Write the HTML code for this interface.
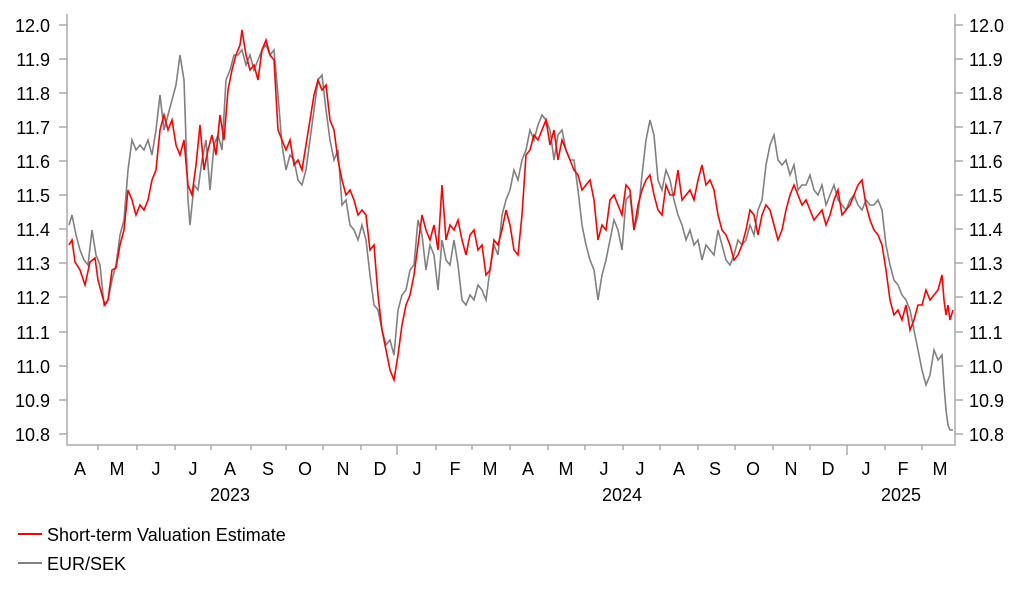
<!DOCTYPE html><html><head><style>body{margin:0;background:#fff}svg text{font-family:"Liberation Sans",Arial,sans-serif;fill:#000}</style></head><body>
<svg width="1022" height="597" viewBox="0 0 1022 597" xmlns="http://www.w3.org/2000/svg">
<g stroke="#aaa" stroke-width="1.5" fill="none">
<path d="M67 14V445H955V14"/>
<path d="M59 25H67M59 59H67M59 93H67M59 127H67M59 161H67M59 195H67M59 229H67M59 263H67M59 297H67M59 332H67M59 366H67M59 400H67M59 434H67"/>
<path d="M955 25H963M955 59H963M955 93H963M955 127H963M955 161H963M955 195H963M955 229H963M955 263H963M955 297H963M955 332H963M955 366H963M955 400H963M955 434H963"/>
<path d="M98 445v5M137 445v5M175 445v5M211 445v5M251 445v5M286 445v5M323 445v5M361 445v5M397 445v10M436 445v5M472 445v5M510 445v5M548 445v5M585 445v5M623 445v5M660 445v5M698 445v5M735 445v5M773 445v5M810 445v5M847 445v10M885 445v5M922 445v5"/>
</g>
<g font-size="18" text-anchor="end">
<text x="50" y="32">12.0</text><text x="50" y="66">11.9</text><text x="50" y="100">11.8</text><text x="50" y="134">11.7</text><text x="50" y="168">11.6</text><text x="50" y="202">11.5</text><text x="50" y="236">11.4</text><text x="50" y="270">11.3</text><text x="50" y="304">11.2</text><text x="50" y="339">11.1</text><text x="50" y="373">11.0</text><text x="50" y="407">10.9</text><text x="50" y="441">10.8</text>
</g>
<g font-size="18">
<text x="969" y="32">12.0</text><text x="969" y="66">11.9</text><text x="969" y="100">11.8</text><text x="969" y="134">11.7</text><text x="969" y="168">11.6</text><text x="969" y="202">11.5</text><text x="969" y="236">11.4</text><text x="969" y="270">11.3</text><text x="969" y="304">11.2</text><text x="969" y="339">11.1</text><text x="969" y="373">11.0</text><text x="969" y="407">10.9</text><text x="969" y="441">10.8</text>
</g>
<g font-size="18" text-anchor="middle">
<text x="80" y="475">A</text><text x="117" y="475">M</text><text x="156" y="475">J</text><text x="193" y="475">J</text><text x="230" y="475">A</text><text x="268" y="475">S</text><text x="305" y="475">O</text><text x="343" y="475">N</text><text x="380" y="475">D</text><text x="417" y="475">J</text><text x="455" y="475">F</text><text x="490" y="475">M</text><text x="528" y="475">A</text><text x="566" y="475">M</text><text x="604" y="475">J</text><text x="640" y="475">J</text><text x="679" y="475">A</text><text x="715" y="475">S</text><text x="753" y="475">O</text><text x="791" y="475">N</text><text x="828" y="475">D</text><text x="866" y="475">J</text><text x="903" y="475">F</text><text x="940" y="475">M</text>
<text x="230" y="501">2023</text><text x="622" y="501">2024</text><text x="901" y="501">2025</text>
</g>
<polyline fill="none" stroke="#808080" stroke-width="1.6" points="69,225 72,215 76,235 80,250 84,260 88,265 92,230 96,255 100,265 104,305 108,300 112,280 116,265 120,235 124,220 128,170 132,140 136,150 140,145 144,150 148,140 152,155 156,130 160,95 164,130 168,115 172,100 176,85 180,55 184,80 188,200 190,225 194,185 198,190 202,160 206,140 210,190 214,145 218,135 222,150 226,80 230,70 234,55 238,55 242,50 246,65 250,55 254,70 258,60 262,50 266,45 270,55 274,50 278,95 282,145 286,170 290,155 294,160 298,180 302,185 306,170 310,140 314,110 318,80 322,75 326,110 330,140 334,160 338,150 342,205 346,200 350,225 354,230 358,240 362,225 366,240 370,275 374,305 378,310 382,330 386,345 390,340 394,355 398,310 402,295 406,290 410,270 414,265 418,220 422,235 426,270 430,245 434,255 438,290 442,240 446,260 450,265 454,240 458,265 462,300 466,305 470,295 474,300 478,285 482,290 486,300 490,270 494,245 498,255 502,215 506,200 510,190 514,170 518,180 522,160 526,150 530,130 534,140 538,125 542,115 546,120 550,130 554,160 558,135 562,130 566,150 570,160 574,160 578,190 582,225 586,245 590,260 594,270 598,300 602,275 606,260 610,240 614,220 618,230 622,250 626,200 630,195 634,230 638,215 642,175 646,140 650,120 654,135 658,180 662,190 666,170 670,180 674,200 678,215 682,225 686,240 690,230 694,245 698,240 702,260 706,245 710,250 714,255 718,230 722,245 726,260 730,265 734,255 738,240 742,245 746,240 750,225 754,235 758,210 762,200 766,165 770,145 774,135 778,160 782,165 786,160 790,175 794,165 798,190 802,185 806,185 810,175 814,190 818,195 822,185 826,205 830,195 834,185 838,200 842,205 846,210 850,200 854,195 858,205 862,210 866,200 870,205 874,205 878,200 882,210 886,245 890,265 894,280 898,285 902,295 906,300 910,310 914,330 918,350 922,370 926,385 930,375 934,350 938,360 942,355 944,385 946,410 948,425 950,430 953,430"/>
<polyline fill="none" stroke="#ff0000" stroke-width="1.6" points="69,245 72,240 75,262 80,270 85,285 90,262 95,258 98,280 102,295 105,305 108,300 112,270 116,268 120,245 124,230 128,190 132,200 136,215 140,205 144,210 148,200 152,180 156,170 160,130 164,115 168,130 172,120 176,145 180,155 184,140 188,185 192,195 196,165 200,125 204,170 208,150 212,135 216,155 220,115 224,140 228,90 232,70 236,55 240,45 242,30 246,55 250,70 254,65 258,80 262,50 266,40 270,55 274,60 278,130 282,140 286,150 290,140 294,165 298,160 302,170 306,145 310,120 314,95 318,80 322,90 326,85 330,120 334,130 338,160 342,180 346,195 350,190 354,200 358,215 362,210 366,215 370,250 374,245 378,295 382,330 386,350 390,370 394,380 398,355 402,325 406,305 410,295 414,275 418,245 422,215 426,230 430,240 434,225 438,250 442,185 446,240 450,225 454,230 458,220 462,240 466,255 470,235 474,230 478,250 482,245 486,275 490,270 494,240 498,245 502,230 506,210 510,225 514,250 518,255 522,215 526,155 530,150 534,135 538,140 542,130 546,120 550,145 554,130 558,160 562,140 566,150 570,160 574,170 578,175 582,190 586,185 590,180 594,200 598,240 602,225 606,230 610,200 614,195 618,205 622,215 626,185 630,190 634,230 638,205 642,190 646,180 650,175 654,195 658,210 662,215 666,185 670,195 674,195 678,170 682,200 686,195 690,190 694,200 698,180 702,165 706,185 710,180 714,190 718,215 722,230 726,235 730,245 734,260 738,255 742,245 746,230 750,210 754,215 758,235 762,215 766,205 770,210 774,225 778,240 782,230 786,210 790,195 794,185 798,195 802,205 806,200 810,210 814,220 818,215 822,210 826,225 830,215 834,200 838,190 842,215 846,210 850,205 854,195 858,185 862,180 866,205 870,220 874,230 878,235 882,245 886,270 890,300 894,315 898,310 902,320 906,305 910,330 914,320 918,305 922,305 926,290 930,300 934,295 938,290 942,275 944,300 946,315 948,305 950,320 953,310"/>
<line x1="18" y1="534" x2="42" y2="534" stroke="#ff0000" stroke-width="2"/>
<line x1="18" y1="563" x2="42" y2="563" stroke="#808080" stroke-width="2"/>
<text x="47" y="541" font-size="18">Short-term Valuation Estimate</text>
<text x="47" y="570" font-size="18">EUR/SEK</text>
</svg></body></html>
